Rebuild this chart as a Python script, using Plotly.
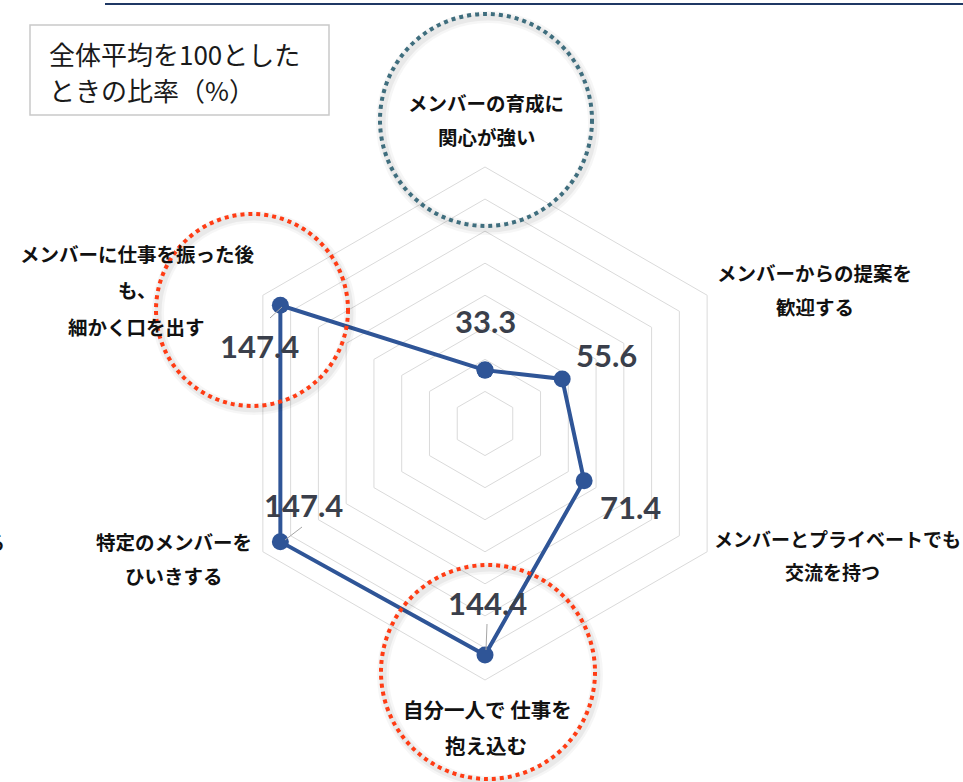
import plotly.graph_objects as go

W, H = 963, 782

# ---------------- data ----------------
categories = [
    "メンバーの育成に関心が強い",
    "メンバーからの提案を歓迎する",
    "メンバーとプライベートでも交流を持つ",
    "自分一人で仕事を抱え込む",
    "特定のメンバーをひいきする",
    "メンバーに仕事を振った後も、細かく口を出す",
]
values = [33.3, 55.6, 71.4, 144.4, 147.4, 147.4]
label_lines = [
    ["メンバーの育成に", "関心が強い"],
    ["メンバーからの提案を", "歓迎する"],
    ["メンバーとプライベートでも", "交流を持つ"],
    ["自分一人で 仕事を", "抱え込む"],
    ["特定のメンバーを", "ひいきする"],
    ["メンバーに仕事を振った後", "も、", "細かく口を出す"],
]
radial_max = 160
radial_step = 20
note_lines = ["全体平均を100とした", "ときの比率（%）"]

# ---------------- layout helpers (pixel -> paper) ----------------
def px(x):
    return x / W


def py(y):
    return 1 - y / H


CX, CY, R = 485, 423.5, 256.5
label_pos = [
    [(486, 102), (487, 136)],
    [(814, 273), (815, 307)],
    [(837, 538), (832, 571)],
    [(487, 709), (486, 745)],
    [(174, 541), (174, 575)],
    [(137, 254), (137, 289), (136, 327)],
]
label_sizes = [19.5, 19.5, 19, 20.5, 19.5, 19.5]
value_pos = [(485, 321), (606, 355), (630, 507), (487, 603), (303, 505), (259, 346)]

BLUE = "#2f5597"
GRID = "#dadada"

fig = go.Figure()
fig.add_trace(
    go.Scatterpolar(
        r=values + values[:1],
        theta=categories + categories[:1],
        mode="lines+markers",
        line=dict(color=BLUE, width=4),
        marker=dict(color=BLUE, size=17),
        showlegend=False,
        hoverinfo="skip",
    )
)

fig.update_layout(
    width=W,
    height=H,
    margin=dict(l=0, r=0, t=0, b=0),
    paper_bgcolor="white",
    plot_bgcolor="white",
    showlegend=False,
    polar=dict(
        domain=dict(x=[px(CX - R), px(CX + R)], y=[py(CY + R), py(CY - R)]),
        bgcolor="white",
        gridshape="linear",
        radialaxis=dict(
            range=[0, radial_max],
            dtick=radial_step,
            tick0=0,
            showticklabels=False,
            ticks="",
            showline=False,
            gridcolor=GRID,
            gridwidth=1,
        ),
        angularaxis=dict(
            rotation=90,
            direction="clockwise",
            showticklabels=False,
            ticks="",
            showgrid=False,
            showline=True,
            linecolor=GRID,
            linewidth=1,
        ),
    ),
)

shapes = []
# top rule
shapes.append(dict(type="line", xref="paper", yref="paper", x0=px(105), x1=px(963), y0=py(4), y1=py(4),
                   line=dict(color="#1f3864", width=2)))
# note box
shapes.append(dict(type="rect", xref="paper", yref="paper", x0=px(30), x1=px(329), y0=py(115), y1=py(25),
                   line=dict(color="#c9c9c9", width=1.5), fillcolor="white", layer="above"))


def circle(cx, cy, r, color):
    out = []
    # soft shadow
    for w, a in [(12, 0.035), (7, 0.05)]:
        out.append(dict(type="circle", xref="paper", yref="paper",
                        x0=px(cx - r + 2), x1=px(cx + r + 2), y0=py(cy + r + 3), y1=py(cy - r + 3),
                        line=dict(color=f"rgba(0,0,0,{a})", width=w), layer="above"))
    out.append(dict(type="circle", xref="paper", yref="paper",
                    x0=px(cx - r), x1=px(cx + r), y0=py(cy + r), y1=py(cy - r),
                    line=dict(color=color, width=4, dash="4px,4px"), layer="above"))
    return out


shapes += circle(486, 120, 106, "#3f6e7e")
shapes += circle(252, 310, 96, "#ff3c14")
shapes += circle(488, 672, 107, "#ff3c14")

# leader lines for value labels
for (x0, y0, x1, y1) in [(302, 527, 285, 540), (487, 624, 486, 650), (270, 318, 282, 307)]:
    shapes.append(dict(type="line", xref="paper", yref="paper", x0=px(x0), x1=px(x1), y0=py(y0), y1=py(y1),
                       line=dict(color="#a6a6a6", width=1)))

fig.update_layout(shapes=shapes)

ann = []
for lines, poss, fs in zip(label_lines, label_pos, label_sizes):
    for t, (x, y) in zip(lines, poss):
        ann.append(dict(text=f"<b>{t}</b>", x=px(x), y=py(y), xref="paper", yref="paper",
                        xanchor="center", yanchor="middle", showarrow=False,
                        font=dict(family="Noto Sans CJK JP", size=fs, color="#111111")))

for v, (x, y) in zip(values, value_pos):
    ann.append(dict(text=f"<b>{v:.1f}</b>", x=px(x), y=py(y), xref="paper", yref="paper",
                    xanchor="center", yanchor="middle", showarrow=False,
                    font=dict(family="Lato", size=31, color="#3a3f4b")))

for t, y in zip(note_lines, [53, 90]):
    ann.append(dict(text=t, x=px(47), y=py(y), xref="paper", yref="paper",
                    xanchor="left", yanchor="middle", showarrow=False,
                    font=dict(family="Noto Sans CJK JP", size=26, color="#1a1a1a")))

# clipped glyph at the left edge (as in the reference)
ann.append(dict(text="<b>る</b>", x=px(7), y=py(541), xref="paper", yref="paper",
                xanchor="right", yanchor="middle", showarrow=False,
                font=dict(family="Noto Sans CJK JP", size=19, color="#111111")))

fig.update_layout(annotations=ann)

fig.write_html("out.html")
